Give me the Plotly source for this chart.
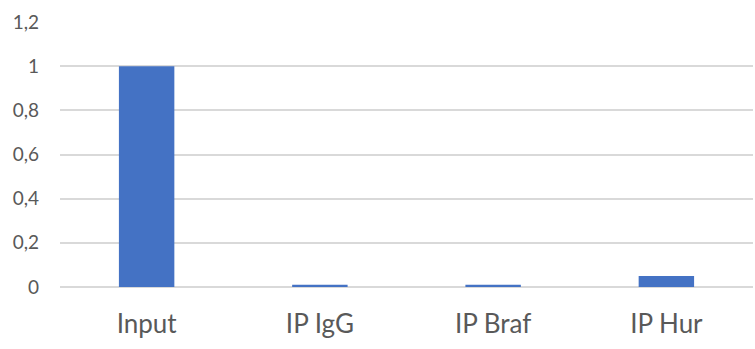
import plotly.graph_objects as go

categories = ["Input", "IP IgG", "IP Braf", "IP Hur"]
values = [1.0, 0.01, 0.01, 0.05]
tick_vals = [0, 0.2, 0.4, 0.6, 0.8, 1.0, 1.2]
tick_text = ["0", "0,2", "0,4", "0,6", "0,8", "1", "1,2"]

fig = go.Figure()
fig.add_trace(go.Bar(
    x=categories, y=values,
    marker=dict(color="#4472C4", line=dict(width=0)),
    width=0.32,
))
fig.update_layout(
    width=755, height=349,
    margin=dict(l=60, r=2, t=22, b=62, autoexpand=False),
    paper_bgcolor="white", plot_bgcolor="white",
    font=dict(family="Lato, Open Sans, sans-serif", color="#595959"),
    showlegend=False,
)
fig.update_xaxes(
    showgrid=False, showline=False, zeroline=False,
    tickfont=dict(size=26, color="#595959"),
    ticks="", automargin=False,
    ticklabelstandoff=19,
)
fig.update_yaxes(
    range=[0, 1.2],
    tickvals=tick_vals, ticktext=tick_text,
    showgrid=True, gridcolor="#D9D9D9", gridwidth=1.5,
    zeroline=True, zerolinecolor="#D9D9D9", zerolinewidth=1.5,
    showline=False,
    tickfont=dict(size=19, color="#595959"),
    ticks="", automargin=False,
    ticklabelstandoff=20,
)
fig.write_html(
    "out.html",
    config={"displayModeBar": False},
    post_script="document.body.style.margin='0';document.body.style.overflow='hidden';",
)
